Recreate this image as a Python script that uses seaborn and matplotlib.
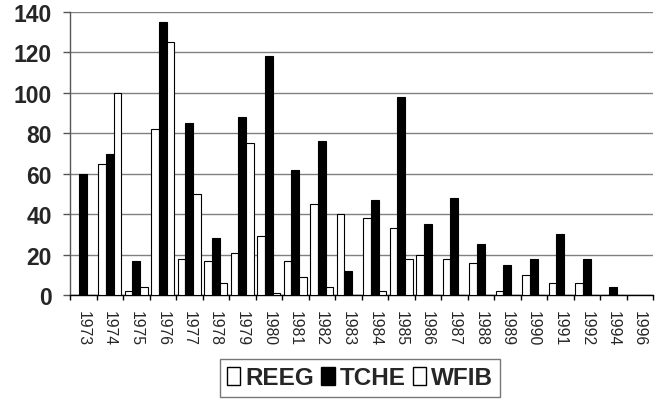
import numpy as np
import pandas as pd
import matplotlib
matplotlib.use("Agg")
import matplotlib.pyplot as plt
import matplotlib.patches as mpatches
from matplotlib import font_manager
import seaborn as sns

# Yearly counts per series
years = ["1973", "1974", "1975", "1976", "1977", "1978", "1979", "1980",
         "1981", "1982", "1983", "1984", "1985", "1986", "1987", "1988",
         "1989", "1990", "1991", "1992", "1994", "1996"]
reeg = [0, 65, 2, 82, 18, 17, 21, 29, 17, 45, 40, 38, 33, 20, 18, 16,
        2, 10, 6, 6, 0, 0]
tche = [60, 70, 17, 135, 85, 28, 88, 118, 62, 76, 12, 47, 98, 35, 48, 25,
        15, 18, 30, 18, 4, 0]
wfib = [0, 100, 4, 125, 50, 6, 75, 1, 9, 4, 0, 2, 18, 0, 0, 0,
        0, 0, 0, 0, 0, 0]
series = ["REEG", "TCHE", "WFIB"]
colors = {"REEG": "white", "TCHE": "black", "WFIB": "white"}
y_ticks = [0, 20, 40, 60, 80, 100, 120, 140]

df = pd.DataFrame({
    "year": years * 3,
    "series": ["REEG"] * len(years) + ["TCHE"] * len(years) + ["WFIB"] * len(years),
    "count": reeg + tche + wfib,
})

sns.set_style("white")
plt.rcParams["font.family"] = ["Liberation Sans", "DejaVu Sans"]

installed = {f.name for f in font_manager.fontManager.ttflist}
narrow = "Liberation Sans Narrow" in installed

fig = plt.figure(figsize=(6.58, 4.02), dpi=100)
ax = fig.add_axes([70 / 658, 1 - 296 / 402, 583 / 658, 283 / 402])

sns.barplot(data=df, x="year", y="count", hue="series", order=years,
            hue_order=series, palette=colors, edgecolor="black",
            linewidth=0.8, width=0.88, saturation=1, legend=False, ax=ax,
            zorder=3)

ax.set_xlim(-0.5, len(years) - 0.5)
ax.set_ylim(0, 140)
ax.set_yticks(y_ticks)
ax.set_yticklabels([str(v) for v in y_ticks], fontsize=16.5, fontweight="bold")
ax.yaxis.grid(True, color="#808080", linewidth=1, zorder=0)
ax.xaxis.grid(False)
ax.set_axisbelow(True)
ax.set_xlabel("")
ax.set_ylabel("")

for side in ("top", "right"):
    ax.spines[side].set_visible(False)
ax.spines["left"].set_color("#555555")
ax.spines["bottom"].set_color("black")
ax.spines["left"].set_linewidth(1)
ax.spines["bottom"].set_linewidth(1)

ax.tick_params(axis="y", which="major", direction="out", length=5,
               width=1, color="#555555", pad=8, left=True)
ax.set_xticks(np.arange(len(years)))
ax.set_xticklabels(years, rotation=-90, fontsize=11.3)
ax.tick_params(axis="x", which="major", length=0, pad=11)
ax.set_xticks(np.arange(-0.5, len(years), 1), minor=True)
ax.tick_params(axis="x", which="minor", direction="out", length=3.5,
               width=1, color="black", bottom=True)
for lab in ax.get_xticklabels():
    lab.set_verticalalignment("top")

handles = [mpatches.Patch(facecolor=colors[s], edgecolor="black",
                          linewidth=1, label=s) for s in series]
if narrow:
    leg_font = {"family": "Liberation Sans Narrow", "weight": "bold", "size": 21}
    hl, hh = 0.45, 0.62
else:
    leg_font = {"family": "Liberation Sans", "weight": "bold", "size": 17.5}
    hl, hh = 0.55, 0.75
leg = fig.legend(handles=handles, ncol=3, loc="center",
                 bbox_to_anchor=(360 / 658, 1 - 379 / 402),
                 bbox_transform=fig.transFigure, prop=leg_font,
                 handlelength=hl, handleheight=hh, handletextpad=0.2,
                 columnspacing=0.3, borderpad=0.3, borderaxespad=0,
                 fancybox=False, frameon=True)
leg.get_frame().set_edgecolor("#555555")
leg.get_frame().set_linewidth(1)

fig.savefig("out.png", dpi=100)
